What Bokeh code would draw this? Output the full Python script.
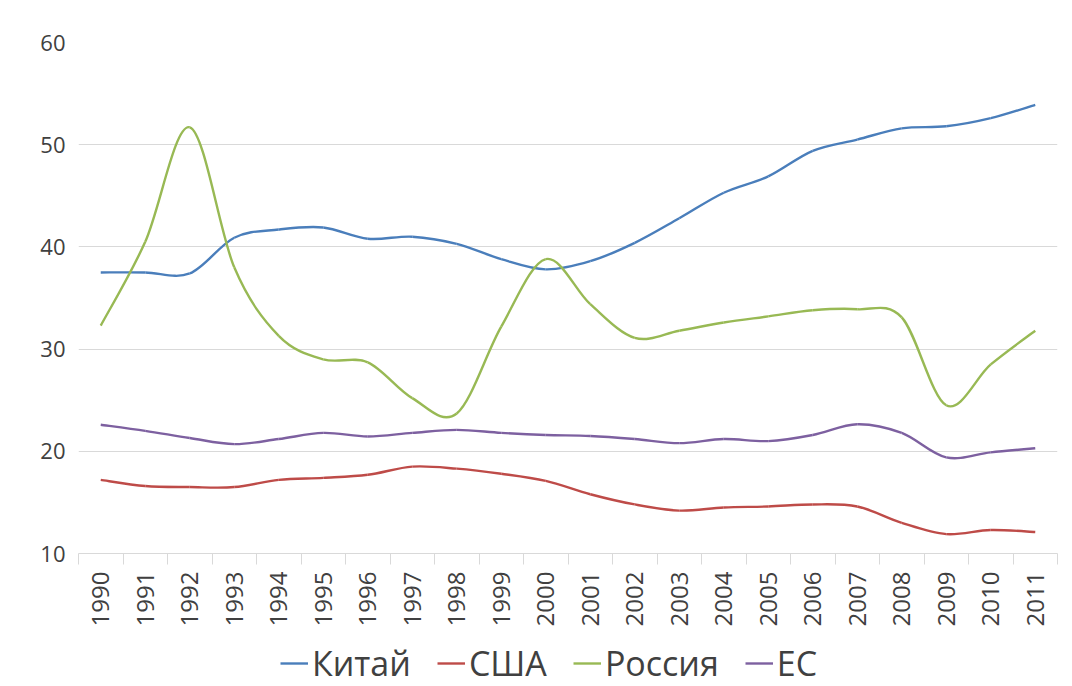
import numpy as np
from bokeh.plotting import figure
from bokeh.layouts import column
from bokeh.models import Range1d, FixedTicker, Legend, LegendItem
from bokeh.embed import file_html
from bokeh.resources import INLINE

years = list(range(1990, 2012))
year_labels = [str(y) for y in years]
series_names = ["Китай", "США", "Россия", "ЕС"]
china = [37.5, 37.5, 37.4, 40.9, 41.7, 41.9, 40.8, 41.0, 40.3, 38.8, 37.8,
         38.6, 40.4, 42.8, 45.3, 46.9, 49.4, 50.5, 51.6, 51.8, 52.6, 53.9]
usa = [17.2, 16.6, 16.5, 16.5, 17.2, 17.4, 17.7, 18.5, 18.3, 17.8, 17.1,
       15.8, 14.8, 14.2, 14.5, 14.6, 14.8, 14.6, 13.0, 11.9, 12.3, 12.1]
russia = [32.3, 40.5, 51.7, 38.0, 31.3, 29.0, 28.7, 25.2, 23.7, 32.2, 38.8,
          34.4, 31.1, 31.8, 32.6, 33.2, 33.8, 33.9, 33.1, 24.5, 28.5, 31.8]
eu = [22.6, 22.0, 21.3, 20.7, 21.2, 21.8, 21.45, 21.8, 22.1, 21.8, 21.6,
      21.5, 21.2, 20.8, 21.2, 21.0, 21.6, 22.65, 21.8, 19.4, 19.9, 20.3]
colors = ["#4A7EBB", "#BE4B48", "#98B954", "#7D60A0"]
y_ticks = [10, 20, 30, 40, 50, 60]

FONT = "Open Sans"
TXT = "#404040"
LW = 2.4


def bezier_segments(xs, ys):
    x = np.asarray(xs, dtype=float)
    y = np.asarray(ys, dtype=float)
    xe = np.concatenate([[x[0]], x, [x[-1]]])
    ye = np.concatenate([[y[0]], y, [y[-1]]])
    n = len(x)
    i = np.arange(n - 1)
    x0, y0 = x[:-1], y[:-1]
    x1, y1 = x[1:], y[1:]
    cx0 = x0 + (xe[i + 2] - xe[i]) / 6.0
    cy0 = y0 + (ye[i + 2] - ye[i]) / 6.0
    cx1 = x1 - (xe[i + 3] - xe[i + 1]) / 6.0
    cy1 = y1 - (ye[i + 3] - ye[i + 1]) / 6.0
    return dict(x0=x0, y0=y0, x1=x1, y1=y1, cx0=cx0, cy0=cy0, cx1=cx1, cy1=cy1)


p = figure(width=1064, height=638, output_backend="svg", toolbar_location=None,
           x_range=Range1d(1989.5, 2011.5), y_range=Range1d(10, 60),
           min_border_left=78, min_border_right=7, min_border_top=42,
           min_border_bottom=85)
p.outline_line_color = None
p.background_fill_color = "white"
p.border_fill_color = "white"

for name, vals, col in zip(series_names, [china, usa, russia, eu], colors):
    p.bezier(line_color=col, line_width=LW, **bezier_segments(years, vals))

p.xgrid.grid_line_color = None
p.ygrid.grid_line_color = "#D9D9D9"
p.ygrid.grid_line_width = 1

p.yaxis.ticker = FixedTicker(ticks=y_ticks)
p.yaxis.axis_line_color = None
p.yaxis.major_tick_line_color = None
p.yaxis.minor_tick_line_color = None
p.yaxis.major_label_text_font = FONT
p.yaxis.major_label_text_font_size = "22px"
p.yaxis.major_label_text_color = TXT
p.yaxis.major_label_standoff = 7

p.xaxis.ticker = FixedTicker(ticks=years, minor_ticks=[y - 0.5 for y in years] + [years[-1] + 0.5])
p.xaxis.major_label_overrides = {y: s for y, s in zip(years, year_labels)}
p.xaxis.axis_line_color = "#D9D9D9"
p.xaxis.major_tick_line_color = None
p.xaxis.major_tick_out = 11
p.xaxis.major_tick_in = 0
p.xaxis.minor_tick_line_color = "#D9D9D9"
p.xaxis.minor_tick_out = 11
p.xaxis.minor_tick_in = 0
p.xaxis.major_label_orientation = np.pi / 2
p.xaxis.major_label_text_font = FONT
p.xaxis.major_label_text_font_size = "24px"
p.xaxis.major_label_text_color = TXT
p.xaxis.major_label_standoff = 7

# legend strip below the chart
q = figure(width=1064, height=48, output_backend="svg", toolbar_location=None,
           x_range=Range1d(0, 1), y_range=Range1d(0, 1),
           min_border=0, x_axis_location=None, y_axis_location=None)
q.outline_line_color = None
q.xgrid.visible = False
q.ygrid.visible = False
items = []
for name, col in zip(series_names, colors):
    r = q.line(x=[-5, -4], y=[-5, -4], line_color=col, line_width=LW)
    items.append(LegendItem(label=name, renderers=[r]))
legend = Legend(items=items, orientation="horizontal", location=(202, 0),
                label_text_font=FONT, label_text_font_size="34px",
                label_text_color=TXT, glyph_width=28, glyph_height=34,
                label_standoff=4, spacing=26, padding=0, margin=0,
                border_line_color=None, background_fill_alpha=0)
q.add_layout(legend, "center")

layout = column(p, q, spacing=0)
open("out.html", "w").write(file_html(layout, INLINE))
